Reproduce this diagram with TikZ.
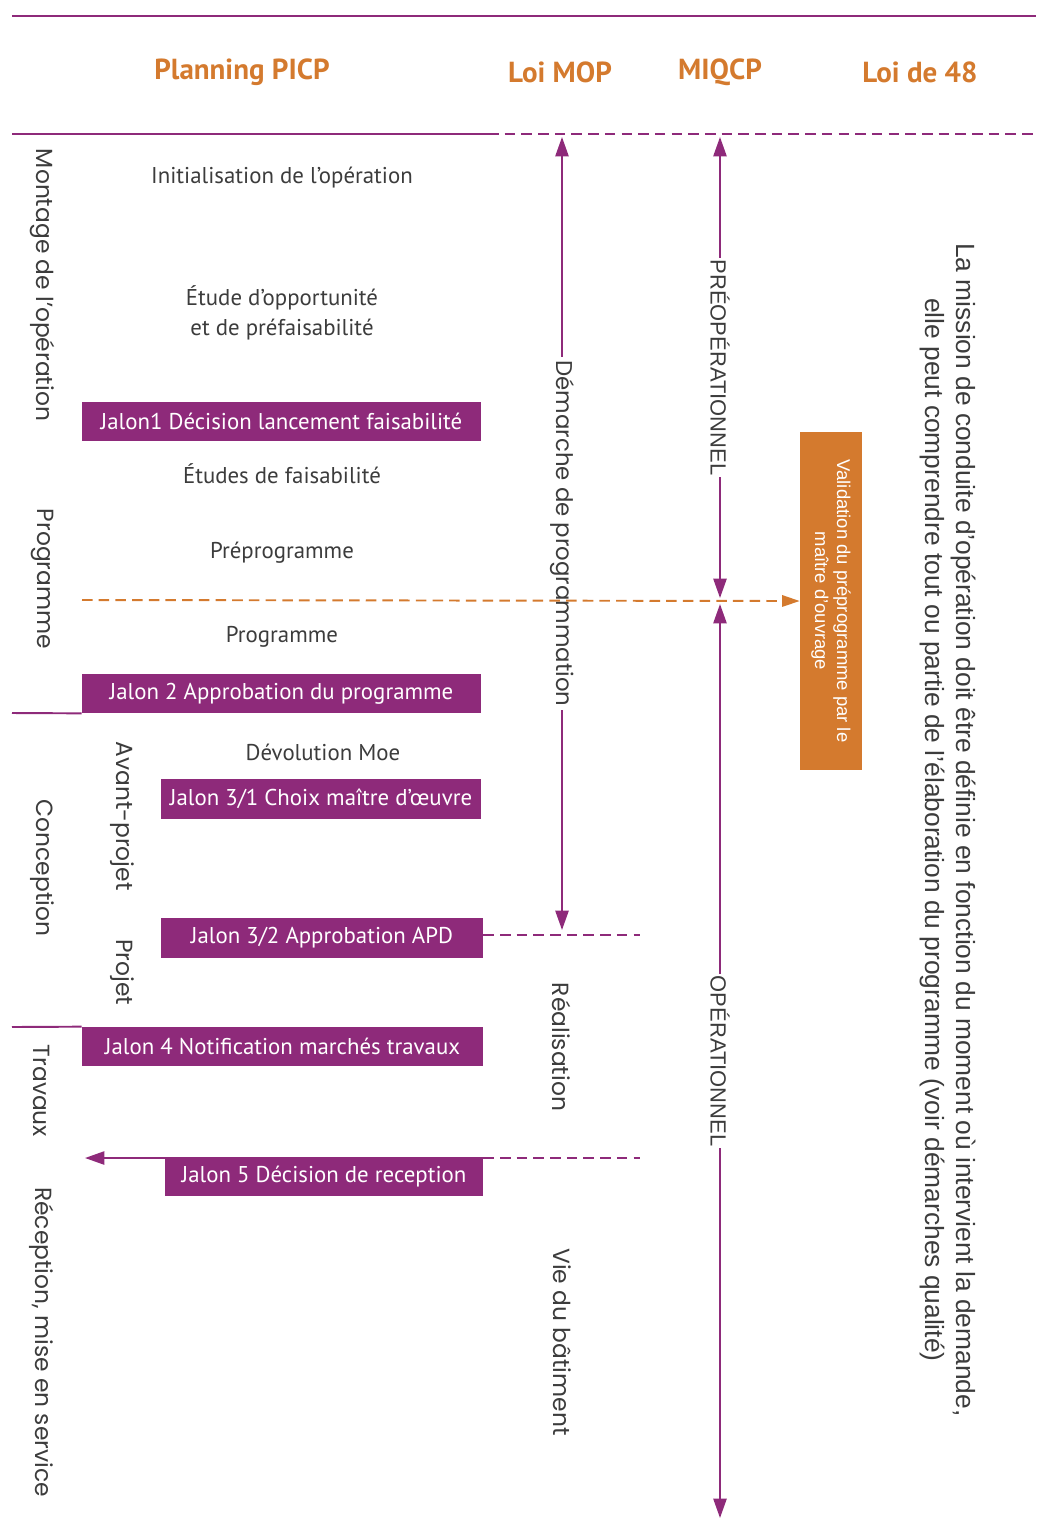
\documentclass[tikz,border=0pt]{standalone}
\usepackage{fontspec}
\setmainfont{PT Sans}
\newfontfamily\geofont{Poppins}
\newfontfamily\arialfont{Liberation Sans}
\usetikzlibrary{arrows.meta,positioning}
\definecolor{violet}{RGB}{142,42,122}
\definecolor{orangepicp}{RGB}{212,122,46}
\definecolor{gristexte}{RGB}{60,60,60}

\begin{document}
\begin{tikzpicture}[x=0.02cm,y=-0.02cm,
  trait/.style={violet,line width=1.1pt},
  pointille/.style={violet,line width=1.1pt,dash pattern=on 6pt off 3.5pt},
  fleche/.style={violet,line width=1.1pt,{Triangle[length=11pt,width=7.5pt]}-{Triangle[length=11pt,width=7.5pt]}},
  jalon/.style={fill=violet,text=white,font=\fontsize{13}{15}\selectfont,minimum height=0.78cm,inner sep=0pt},
  titre/.style={text=orangepicp,font=\fontsize{16.5}{18}\selectfont\bfseries},
  etape/.style={text=gristexte,font=\fontsize{13}{17}\selectfont,align=center},
  phase/.style={rotate=-90,text=gristexte,font=\geofont\fontsize{13.3}{15}\selectfont},
  periode/.style={rotate=-90,fill=white,inner sep=1pt,text=gristexte,font=\arialfont\fontsize{12.5}{14}\selectfont}]

  \useasboundingbox (0,0) rectangle (1036,1519);

  % en-tete
  \draw[trait] (12,16) -- (1036,16);
  \node[titre] (picp) at (242,72) {Planning PICP};
  \node[titre] (mop) at (560,72) {Loi MOP};
  \node[titre] (miqcp) at (720,72) {MIQCP};
  \node[titre] (loi48) at (920,72) {Loi de 48};
  \draw[trait] (12,134) -- (488,134);
  \draw[pointille] (488,134) -- (1036,134);

  % planning
  \node[etape] (init) at (282,178) {Initialisation de l’opération};
  \node[etape] (opport) at (282,313) {Étude d’opportunité\\et de préfaisabilité};
  \node[jalon,minimum width=7.98cm] (j1) at (281.5,421.5) {Jalon1 Décision lancement faisabilité};
  \node[etape] (faisab) at (282,474) {Études de faisabilité};
  \node[etape] (prepro) at (282,553) {Préprogramme};
  \node[etape] (progr) at (282,637) {Programme};
  \node[jalon,minimum width=7.98cm] (j2) at (281.5,693.5) {Jalon 2 Approbation du programme};
  \node[etape] (devol) at (323,752) {Dévolution Moe};
  \node[jalon,minimum width=6.4cm,minimum height=0.8cm] (j31) at (321,799) {Jalon 3/1 Choix maître d’œuvre};
  \node[jalon,minimum width=6.44cm,minimum height=0.8cm] (j32) at (322,938) {Jalon 3/2 Approbation APD};
  \node[jalon,minimum width=8.02cm] (j4) at (282.5,1046.5) {Jalon 4 Notification marchés travaux};
  \node[jalon,minimum width=6.36cm] (j5) at (324,1176.5) {Jalon 5 Décision de reception};

  \draw[trait] (12,713) -- (j2.south west);
  \draw[trait] (12,1027) -- (j4.north west);

  % phases
  \node[phase] (montage) at (42,285) {Montage de l’opération};
  \node[phase] (programme) at (42,579) {Programme};
  \node[phase] (conception) at (42,868) {Conception};
  \node[phase] (avp) at (122,816) {Avant-projet};
  \node[phase] (projet) at (122,972) {Projet};
  \node[phase] (travaux) at (42,1091) {Travaux};
  \node[phase] (reception) at (42,1342) {Réception, mise en service};

  % loi MOP
  \coordinate (mopT) at (562,137);
  \coordinate (mopB) at (562,930);
  \draw[fleche] (mopT) -- node[phase,fill=white,inner sep=2pt,font=\geofont\fontsize{13}{15}\selectfont] {Démarche de programmation} (mopB);
  \node[phase] (realis) at (562,1047) {Réalisation};
  \node[phase] (vie) at (562,1342) {Vie du bâtiment};

  \coordinate (apd) at (640,935);
  \coordinate (fin) at (640,1158);
  \coordinate (recep) at (85,1158);
  \draw[pointille] (j32.east |- apd) -- (apd);
  \draw[pointille] (j5.north east |- fin) -- (fin);
  \draw[trait,-{Triangle[length=11pt,width=7.5pt]}] (j5.north east |- fin) -- (recep);

  % MIQCP
  \coordinate (preT) at (720,137);
  \coordinate (preB) at (720,598);
  \coordinate (opT) at (720,604);
  \coordinate (opB) at (720,1518);
  \draw[fleche] (preT) -- node[periode] {PRÉOPÉRATIONNEL} (preB);
  \draw[fleche] (opT) -- node[periode] {OPÉRATIONNEL} (opB);

  % validation
  \node[fill=orangepicp,text=white,minimum width=6.76cm,minimum height=1.24cm,rotate=-90,align=center,
    font=\arialfont\fontsize{10.5}{12.5}\selectfont] (valid) at (831,601)
    {Validation du préprogramme par le\\maître d’ouvrage};
  \coordinate (dep) at (82,600);
  \draw[orangepicp,line width=1.1pt,dash pattern=on 6pt off 3.5pt,-{Triangle[length=10pt,width=6.5pt]}] (dep) -- (valid.south);

  % loi de 48
  \node[rotate=-90,align=center,text=gristexte,font=\arialfont\fontsize{15}{18}\selectfont] (mission) at (948,830)
    {La mission de conduite d’opération doit être définie en fonction du moment où intervient la demande,\\
     elle peut comprendre tout ou partie de l’élaboration du programme (voir démarches qualité)};
\end{tikzpicture}
\end{document}
